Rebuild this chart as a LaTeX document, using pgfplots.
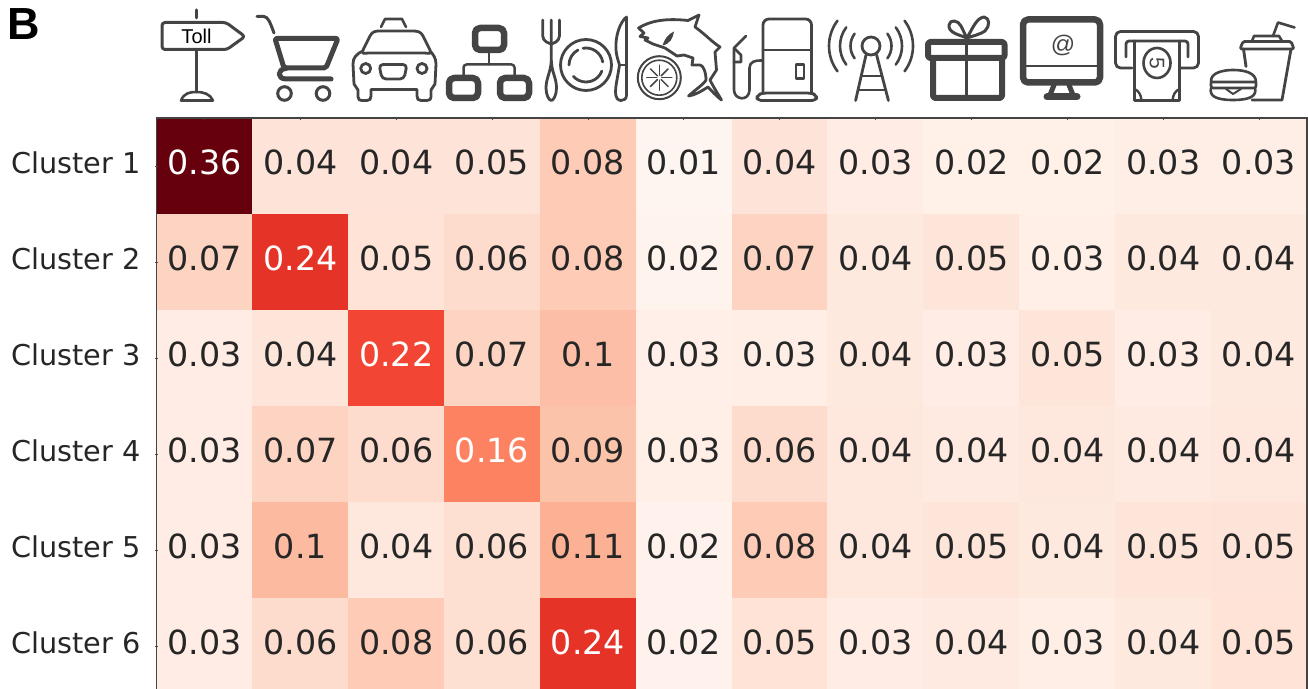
\documentclass[border=0pt]{standalone}
\usepackage{fontspec}
\setmainfont{DejaVu Sans}
\newfontfamily\lib{Liberation Sans}
\usepackage{pgfplots}
\usepackage{pgfplotstable}
\pgfplotsset{compat=1.18}
\definecolor{ink}{HTML}{262626}
\definecolor{ic}{HTML}{444444}
\pgfplotstableread{
x y v l w
0 0 0.36 0.36 1
1 0 0.047 0.04 0
2 0 0.047 0.04 0
3 0 0.047 0.05 0
4 0 0.08 0.08 0
5 0 0.012 0.01 0
6 0 0.047 0.04 0
7 0 0.028 0.03 0
8 0 0.023 0.02 0
9 0 0.023 0.02 0
10 0 0.026 0.03 0
11 0 0.026 0.03 0
0 1 0.07 0.07 0
1 1 0.24 0.24 1
2 1 0.05 0.05 0
3 1 0.06 0.06 0
4 1 0.08 0.08 0
5 1 0.016 0.02 0
6 1 0.07 0.07 0
7 1 0.036 0.04 0
8 1 0.046 0.05 0
9 1 0.025 0.03 0
10 1 0.036 0.04 0
11 1 0.036 0.04 0
0 2 0.03 0.03 0
1 2 0.045 0.04 0
2 2 0.22 0.22 1
3 2 0.07 0.07 0
4 2 0.095 0.1 0
5 2 0.024 0.03 0
6 2 0.027 0.03 0
7 2 0.037 0.04 0
8 2 0.03 0.03 0
9 2 0.046 0.05 0
10 2 0.03 0.03 0
11 2 0.036 0.04 0
0 3 0.03 0.03 0
1 3 0.07 0.07 0
2 3 0.06 0.06 0
3 3 0.16 0.16 1
4 3 0.09 0.09 0
5 3 0.025 0.03 0
6 3 0.06 0.06 0
7 3 0.04 0.04 0
8 3 0.034 0.04 0
9 3 0.04 0.04 0
10 3 0.034 0.04 0
11 3 0.04 0.04 0
0 4 0.03 0.03 0
1 4 0.10 0.1 0
2 4 0.04 0.04 0
3 4 0.055 0.06 0
4 4 0.11 0.11 0
5 4 0.018 0.02 0
6 4 0.08 0.08 0
7 4 0.04 0.04 0
8 4 0.045 0.05 0
9 4 0.037 0.04 0
10 4 0.045 0.05 0
11 4 0.047 0.05 0
0 5 0.03 0.03 0
1 5 0.06 0.06 0
2 5 0.08 0.08 0
3 5 0.055 0.06 0
4 5 0.24 0.24 1
5 5 0.018 0.02 0
6 5 0.05 0.05 0
7 5 0.03 0.03 0
8 5 0.035 0.04 0
9 5 0.027 0.03 0
10 5 0.037 0.04 0
11 5 0.05 0.05 0
}\cells
\pgfplotsset{colormap={Reds}{rgb255=(255,245,240) rgb255=(254,224,210) rgb255=(252,187,161) rgb255=(252,146,114) rgb255=(251,106,74) rgb255=(239,59,44) rgb255=(203,24,29) rgb255=(165,15,21) rgb255=(103,0,13)}}
\pgfplotsset{vallabel/.style={only marks, mark=none, point meta=explicit symbolic, nodes near coords,
  every node near coord/.append style={anchor=center, inner sep=0pt, yshift=3.5pt, font=\fontsize{33.3}{35}\selectfont, text=#1}}}
\begin{document}
\begin{tikzpicture}[x=1pt,y=1pt]
\path[use as bounding box] (0,0) rectangle (1308,688);
\begin{axis}[
  at={(156.5pt,-6pt)}, anchor=south west, scale only axis,
  width=1150.5pt, height=576pt,
  xmin=-0.5, xmax=11.5, ymin=-0.5, ymax=5.5, y dir=reverse,
  xtick={0,...,11}, xticklabels={}, xtick pos=upper,
  ytick={0,...,5}, yticklabels={Cluster 1,Cluster 2,Cluster 3,Cluster 4,Cluster 5,Cluster 6},
  ytick pos=left, tick align=center, major tick length=3pt,
  tick style={color=ic, line width=0.8pt},
  axis line style={color=ic, line width=1.5pt},
  tick label style={font=\fontsize{28.7}{30}\selectfont, text=ink},
  yticklabel style={yshift=3pt, xshift=-11pt},
  axis on top,
  point meta min=0.012, point meta max=0.36,
  colormap name=Reds,
  clip=true,
]
\addplot[matrix plot*, mesh/cols=12, point meta=explicit] table[x=x,y=y,meta=v] {\cells};
\addplot[vallabel=ink, y filter/.expression={\thisrow{w}>0 ? nan : y}] table[x=x,y=y,meta=l] {\cells};
\addplot[vallabel=white, y filter/.expression={\thisrow{w}>0 ? y : nan}] table[x=x,y=y,meta=l] {\cells};
\end{axis}
% Panel letter
\node[anchor=base west, inner sep=0pt, font=\lib\bfseries\fontsize{45}{47}\selectfont, text=black] at (7.5,648) {B};
% Icons: pixel coordinates of the reference
\begin{scope}[shift={(0,688)}, y=-1pt, x=1pt, draw=ic, line cap=round, line join=round, line width=3pt]
% toll sign
\draw (196,10)--(196,18);
\draw[rounded corners=3pt] (162,22.5)--(226,22.5)--(245,36.5)--(227,49.5)--(162,49.5)--cycle;
\draw (196,50)--(196,92);
\draw[line width=2.6pt] (181,100.5)..controls (184,93) and (190,92)..(196,92)..controls (204,92) and (210,94)..(213,100.5)--cycle;
\node[font=\lib\fontsize{20}{22}\selectfont, text=black, inner sep=0pt] at (196.5,36.5) {Toll};
% cart
\draw (257,16.5)--(264,16.5)..controls (268,17) and (270,22)..(274,33);
\draw[line width=5pt, rounded corners=2pt] (275,38.5)--(338,38.5)--(326,68)--(284,68)--cycle;
\draw[line width=5pt] (331,79)--(286,79)..controls (277,79) and (277,69)..(286,68.5);
\draw (284.5,93.5) circle (6.8);
\draw (323,93.5) circle (6.8);
% car
\draw[line width=2.6pt] (381,27)--(385,19)--(402,19)--(406,27);
\draw[line width=2.8pt] (363,50)--(370,36) .. controls (372,32) and (375,31)..(379,31)--(413,31)..controls (418,31) and (421,32)..(423,36)--(430,50)..controls (432,55) and (428,53)..(424,53)--(369,53)..controls (365,53) and (361,55)..(363,50);
\draw[line width=2.8pt] (363,51)..controls (356,54) and (353,58)..(353,64)--(354,84)--(358,90)--(358,97)..controls (358,100) and (360,100.5)..(362,100.5)--(367,100.5)..controls (370,100.5) and (371,99)..(371,96)--(371,89.5)--(417,89.5)--(417,96)..controls (417,99) and (418,100.5)..(421,100.5)--(427,100.5)..controls (430,100.5) and (431,99)..(431,97)--(431,90)--(435,84)--(436,64)..controls (436,58) and (433,54)..(430,51);
\draw[line width=2.8pt] (365.7,68.5) circle (5);
\draw[line width=2.8pt] (422,68.5) circle (5);
\draw[line width=2.8pt,rounded corners=4pt] (379,64.5)--(407,64.5)--(404,79)--(382,79)--cycle;
% hierarchy
\draw[line width=6.5pt,rounded corners=5pt] (475,28)rectangle(504,50);
\draw[line width=6.5pt,rounded corners=5pt] (449,78)rectangle(478,98);
\draw[line width=6.5pt,rounded corners=5pt] (500,78)rectangle(529,98);
\draw[line width=2.5pt,rounded corners=2pt] (489,52)--(489,64.5);
\draw[line width=2.5pt,rounded corners=3pt] (463.5,76)--(463.5,64.5)--(514.5,64.5)--(514.5,76);
% fork, plate, knife
\draw[line width=2.8pt] (542.7,20)--(542.7,36)..controls (543,42) and (549,43)..(551.3,44)..controls (553.5,43) and (559,42)..(559.5,36)--(559.5,20);
\draw[line width=2.8pt] (551.3,20)--(551.3,60)..controls (551,72) and (546,78)..(546,88)..controls (546,95) and (549,100.5)..(551.3,100.5)..controls (553.5,100.5) and (556.5,95)..(556.5,88)..controls (556.5,78) and (551.5,72)..(551.3,60);
\draw[line width=2.8pt] (586,65) circle (25.5);
\draw[line width=2.8pt] (586,65)++(180:17) arc[start angle=180,end angle=242,radius=17];
\draw[line width=2.8pt] (586,65)++(260:17) arc[start angle=260,end angle=350,radius=17];
\draw[line width=2.8pt] (586,65)++(138:17) arc[start angle=138,end angle=21,radius=17];
\draw[line width=2.8pt] (626.5,17)..controls (620,22) and (615,36)..(616,50)..controls (616.5,56) and (618,60)..(619.5,65)..controls (617.5,78) and (615.5,86)..(615.5,92)..controls (615.5,98) and (618,100.5)..(621,100.5)..controls (624,100.5) and (626.5,99)..(626.5,95)--cycle;
\draw[line width=2.4pt] (619.5,65)--(626.5,65);
% fish
\draw[line width=2.8pt] (638.5,28)..controls (650,21) and (665,18)..(688,20.5)--(699,15)--(695,27)..controls (706,35) and (712,42)..(720,47)--(715,52)--(716.5,70)--(710,80)..controls (714,88) and (718,94)..(721.5,100)..controls (715,95) and (712,91)..(708,87)..controls (700,92) and (695,95)..(688.5,96)..controls (695,90) and (704,84)..(706,80)..controls (706,72) and (703,65)..(700,65)--(692,65)--(693,58)--(684,55)--(677,56)--(665,48)--(653,44)--(645,40)--(648,38)--(640,36.5)--(644,33)--cycle;
\fill[ic] (674,31.5)..controls (673,38) and (670,44)..(662.5,45.5)..controls (664,40) and (668,34)..(674,31.5)--cycle;
\draw[line width=2pt] (659.3,77.7) circle (21.5);
\draw[line width=1.6pt] (659.3,77.7) circle (17.5);
\foreach \a in {0,45,...,315} {\draw[line width=1.5pt] (659.3,77.7)++(\a:2.5)--++(\a:10);}
% fuel pump
\draw[line width=2.8pt,rounded corners=6pt] (763,93)--(763,19)--(811.5,19)--(811.5,93);
\draw[line width=2.8pt] (763,50)--(811.5,50);
\draw[line width=2.8pt] (796,64.5) rectangle (804,78.5);
\draw[line width=2.8pt,rounded corners=4pt] (757,100.5)--(816.5,100.5)--(816.5,95)--(811,93)--(763,93)--(757,95)--cycle;
\draw[line width=2.6pt] (746,36)--(734,48)--(734,90)..controls (734,100) and (749,102)..(749.5,90)--(749.5,68)..controls (749.5,62) and (755,60)..(762,60.5);
\draw[line width=2.6pt] (734,48)--(741,55)--(741,62)--(734,62);
% tower
\draw[line width=2.8pt] (871,46) circle (9);
\draw[line width=2.8pt] (866,55)--(855.6,100.5) (876.6,55)--(888.4,100.5);
\draw[line width=2.8pt] (861.5,76)--(881.5,76) (858.5,90)--(885,90);
\foreach \r in {20.5,31,42} {
 \draw[line width=2.6pt] (871,46)++(143:\r) arc[start angle=143,end angle=217,radius=\r];
 \draw[line width=2.6pt] (871,46)++(-37:\r) arc[start angle=-37,end angle=37,radius=\r];
}
% gift
\draw[line width=6pt,rounded corners=2.5pt] (928,42)rectangle(1004.5,58);
\draw[line width=6pt,rounded corners=2.5pt] (933,59)--(933,98)--(1002,98)--(1002,59);
\draw[line width=3pt] (966.8,42)--(966.8,98);
\draw[line width=3pt] (966.8,38)..controls (960,35) and (948,33)..(949,25)..controls (950,19) and (958,20)..(961,26)--(966.8,38)..controls (972,30) and (976,18)..(984,17)..controls (990,18) and (990,26)..(985,31)..controls (981,34) and (973,36)..(966.8,38);
% monitor
\draw[line width=6.5pt,rounded corners=5pt] (1023,19.5)rectangle(1100,82.5);
\draw[line width=2.6pt] (1023,66)--(1100,66);
\draw[line width=5pt] (1054,85)--(1050,95) (1069,85)--(1073,95);
\draw[line width=7pt] (1047,97)--(1077,97);
\node[font=\lib\fontsize{24}{26}\selectfont, text=ic, inner sep=0pt] at (1063,45) {@};
% cash dispenser
\draw[line width=2.8pt,rounded corners=5pt] (1132,68)--(1115.5,68)--(1115.5,31.5)--(1198.5,31.5)--(1198.5,68)--(1181,68);
\draw[line width=2.8pt,rounded corners=3pt] (1126,57)--(1126,41)--(1188,41)--(1188,57);
\draw[line width=2.8pt] (1134.5,41)--(1134.5,100.5)--(1179.5,100.5)--(1179.5,41);
\draw[line width=2.6pt] (1157,63) ellipse (13.5 and 15);
\node[font=\lib\fontsize{21}{22}\selectfont, text=ic, inner sep=0pt, rotate=-90] at (1157,63) {5};
\draw[line width=2.4pt] (1134.5,89)..controls (1139,91) and (1141,95)..(1141.5,100.5) (1179.5,89)..controls (1175,91) and (1173,95)..(1172.5,100.5);
% burger and drink
\draw[line width=2.8pt,rounded corners=1.5pt] (1240,49)--(1243,41.5)--(1291,41.5)--(1294,49)--cycle;
\draw[line width=2.6pt] (1252,41)--(1254,36)--(1279,36)--(1282,41);
\draw[line width=2.6pt] (1273,36)--(1278,22.5)--(1294.5,27.5);
\draw[line width=2.8pt] (1243.5,49)--(1246,66.5);
\draw[line width=2.8pt] (1291,49)--(1282,100)--(1252,100);
\draw[line width=2.6pt] (1211,82)..controls (1210,72) and (1225,70)..(1233,70)..controls (1245,70) and (1256,73)..(1256,82)--cycle;
\draw[line width=2.6pt,rounded corners=2pt] (1211,83)--(1211,88)--(1256,88)--(1256,83);
\draw[line width=2.6pt] (1211,88)..controls (1209,96) and (1216,100)..(1233,100)..controls (1250,100) and (1257,96)..(1255,88);
\draw[line width=2pt] (1226,89)--(1233,94)--(1241,89);
\end{scope}
\end{tikzpicture}
\end{document}
